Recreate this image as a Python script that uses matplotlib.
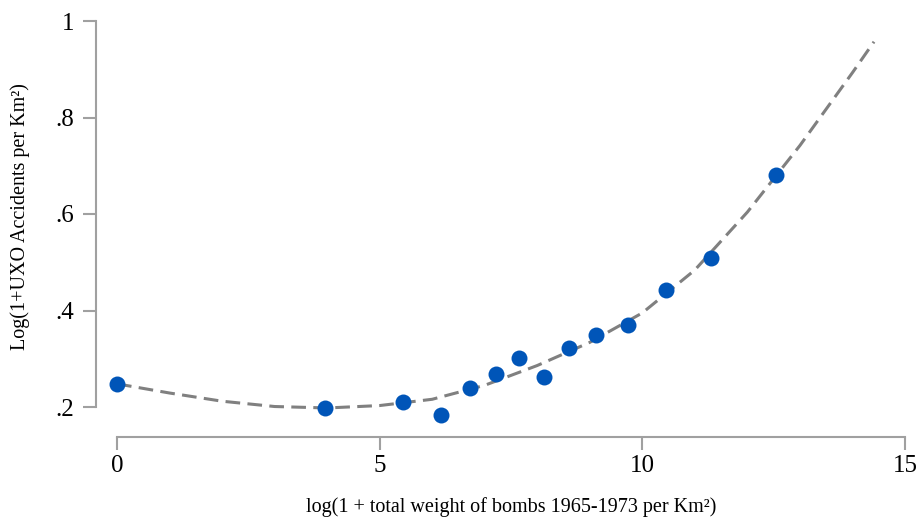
import matplotlib
matplotlib.use("Agg")
import matplotlib.pyplot as plt

# Binned scatter points
bin_x = [0.0, 3.96, 5.45, 6.17, 6.72, 7.22, 7.66, 8.13, 8.61, 9.12, 9.73, 10.46, 11.31, 12.55]
bin_y = [0.248, 0.198, 0.210, 0.183, 0.239, 0.268, 0.302, 0.262, 0.322, 0.349, 0.370, 0.443, 0.509, 0.681]

# Fitted curve
fit_x = [0, 1, 2, 3, 4, 5, 6, 7, 8, 9, 10, 11, 12, 13, 14, 14.41]
fit_y = [0.248, 0.229, 0.212, 0.201, 0.198, 0.203, 0.216, 0.245, 0.286, 0.334, 0.395, 0.484, 0.604, 0.742, 0.893, 0.957]

x_ticks = [0, 5, 10, 15]
x_tick_labels = ["0", "5", "10", "15"]
y_ticks = [0.2, 0.4, 0.6, 0.8, 1.0]
y_tick_labels = [".2", ".4", ".6", ".8", "1"]

x_label = "log(1 + total weight of bombs 1965-1973 per Km²)"
y_label = "Log(1+UXO Accidents per Km²)"

plt.rcParams['font.family'] = ['Liberation Serif', 'DejaVu Serif']

fig = plt.figure(figsize=(9.2, 5.2), dpi=100)
ax = fig.add_axes([117/920, 113/520, 788/920, 386/520])

ax.plot(fit_x, fit_y, color="#808080", lw=2.2, dashes=(4.8, 2.4), clip_on=False, zorder=2)
ax.plot(bin_x, bin_y, 'o', color="#0055b8", markersize=11.5, markeredgewidth=0,
        clip_on=False, zorder=3)

ax.set_xlim(0, 15)
ax.set_ylim(0.2, 1.0)

for s in ["top", "right"]:
    ax.spines[s].set_visible(False)
ax.spines["left"].set_position(("outward", 15.1))
ax.spines["bottom"].set_position(("outward", 21.6))
for s in ["left", "bottom"]:
    ax.spines[s].set_color("#a0a0a0")
    ax.spines[s].set_linewidth(1.5)
ax.spines["left"].set_bounds(0.2, 1.0)
ax.spines["bottom"].set_bounds(0, 15)

ax.set_xticks(x_ticks)
ax.set_xticklabels(x_tick_labels)
ax.set_yticks(y_ticks)
ax.set_yticklabels(y_tick_labels)
ax.tick_params(axis="both", direction="out", length=9.5, width=1.5, color="#a0a0a0",
               labelsize=18, labelcolor="black")
ax.tick_params(axis="y", pad=6)
ax.tick_params(axis="x", pad=3.5)

fig.text(511/920, 1 - 507/520, x_label, fontsize=14.5, ha="center", va="center")
fig.text(20/920, 1 - 217/520, y_label, fontsize=14.5, ha="center", va="center",
         rotation=90)
ax.patch.set_visible(False)

fig.savefig("out.png", dpi=100)
